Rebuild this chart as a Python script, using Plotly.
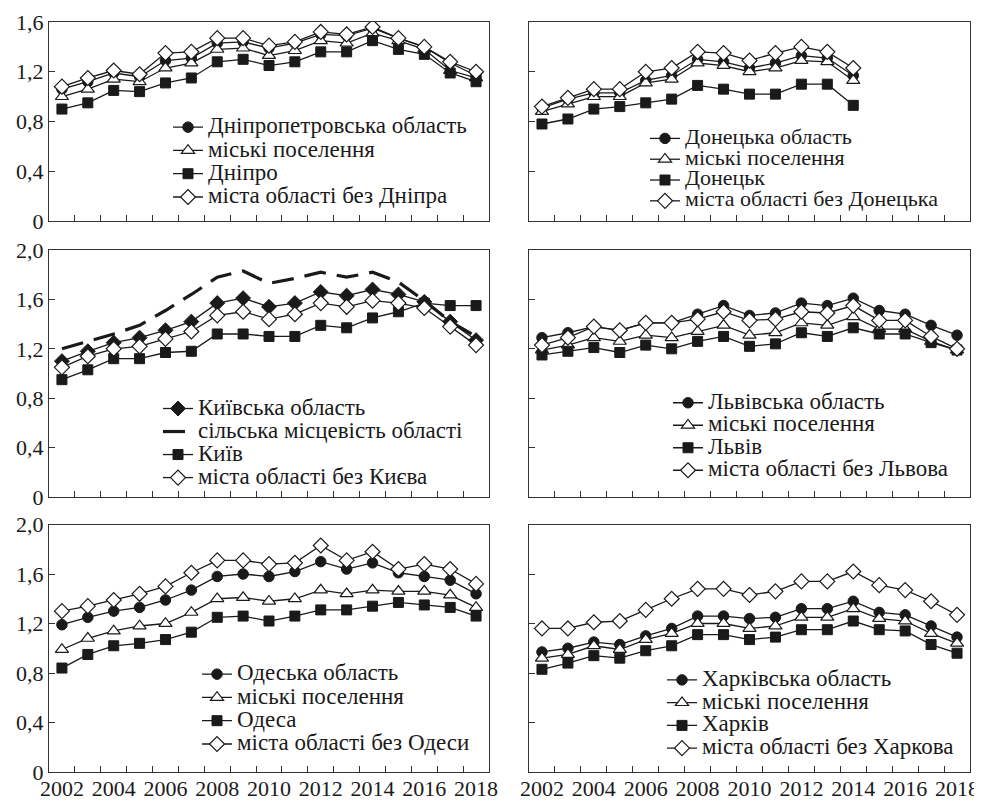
import plotly.graph_objects as go

years = list(range(2002, 2019))
years_don = list(range(2002, 2015))

# Dnipropetrovsk
dnipro_oblast = [1.06, 1.12, 1.19, 1.16, 1.29, 1.31, 1.43, 1.44, 1.39, 1.43, 1.50, 1.49, 1.55, 1.47, 1.40, 1.27, 1.17]
dnipro_urban = [1.00, 1.06, 1.14, 1.12, 1.23, 1.27, 1.38, 1.39, 1.33, 1.37, 1.45, 1.43, 1.51, 1.45, 1.38, 1.21, 1.15]
dnipro_city = [0.90, 0.95, 1.05, 1.04, 1.11, 1.15, 1.28, 1.30, 1.25, 1.28, 1.36, 1.36, 1.45, 1.38, 1.34, 1.19, 1.12]
dnipro_towns = [1.08, 1.15, 1.21, 1.18, 1.35, 1.36, 1.47, 1.47, 1.41, 1.44, 1.52, 1.50, 1.56, 1.47, 1.40, 1.28, 1.20]

# Donetsk (2002-2014)
don_oblast = [0.91, 0.98, 1.03, 1.03, 1.13, 1.17, 1.30, 1.28, 1.23, 1.27, 1.33, 1.31, 1.17]
don_urban = [0.88, 0.94, 1.00, 1.00, 1.11, 1.14, 1.27, 1.25, 1.20, 1.23, 1.29, 1.28, 1.13]
don_city = [0.78, 0.82, 0.90, 0.92, 0.95, 0.98, 1.09, 1.06, 1.02, 1.02, 1.10, 1.10, 0.93]
don_towns = [0.92, 0.99, 1.06, 1.06, 1.20, 1.23, 1.36, 1.35, 1.29, 1.35, 1.40, 1.36, 1.23]

# Kyiv
kyiv_oblast = [1.10, 1.18, 1.25, 1.29, 1.35, 1.42, 1.57, 1.61, 1.54, 1.57, 1.66, 1.63, 1.68, 1.64, 1.58, 1.42, 1.27]
kyiv_rural = [1.20, 1.26, 1.32, 1.39, 1.51, 1.64, 1.78, 1.83, 1.73, 1.77, 1.82, 1.78, 1.82, 1.74, 1.59, 1.42, 1.30]
kyiv_city = [0.95, 1.03, 1.12, 1.12, 1.17, 1.18, 1.32, 1.32, 1.30, 1.30, 1.39, 1.37, 1.45, 1.50, 1.57, 1.55, 1.55]
kyiv_towns = [1.05, 1.14, 1.20, 1.22, 1.28, 1.34, 1.47, 1.50, 1.44, 1.48, 1.57, 1.54, 1.59, 1.57, 1.53, 1.38, 1.23]

# Lviv
lviv_oblast = [1.29, 1.33, 1.38, 1.35, 1.41, 1.41, 1.48, 1.55, 1.47, 1.49, 1.57, 1.55, 1.61, 1.51, 1.48, 1.39, 1.31]
lviv_urban = [1.19, 1.23, 1.29, 1.26, 1.31, 1.29, 1.34, 1.39, 1.31, 1.33, 1.41, 1.39, 1.46, 1.36, 1.36, 1.26, 1.19]
lviv_city = [1.15, 1.18, 1.21, 1.17, 1.23, 1.20, 1.26, 1.30, 1.22, 1.24, 1.33, 1.30, 1.37, 1.32, 1.32, 1.25, 1.19]
lviv_towns = [1.23, 1.29, 1.38, 1.35, 1.41, 1.41, 1.44, 1.50, 1.43, 1.44, 1.50, 1.49, 1.55, 1.43, 1.43, 1.30, 1.20]

# Odesa
odesa_oblast = [1.19, 1.25, 1.30, 1.33, 1.39, 1.47, 1.58, 1.60, 1.58, 1.62, 1.70, 1.64, 1.69, 1.61, 1.58, 1.55, 1.44]
odesa_urban = [0.99, 1.08, 1.14, 1.18, 1.20, 1.29, 1.40, 1.41, 1.38, 1.40, 1.47, 1.44, 1.47, 1.46, 1.46, 1.43, 1.33]
odesa_city = [0.84, 0.95, 1.02, 1.04, 1.07, 1.13, 1.25, 1.26, 1.22, 1.26, 1.31, 1.31, 1.34, 1.37, 1.35, 1.33, 1.26]
odesa_towns = [1.30, 1.34, 1.39, 1.44, 1.50, 1.61, 1.71, 1.71, 1.68, 1.69, 1.83, 1.71, 1.78, 1.64, 1.68, 1.64, 1.52]

# Kharkiv
khar_oblast = [0.97, 1.00, 1.05, 1.03, 1.10, 1.16, 1.26, 1.26, 1.24, 1.25, 1.32, 1.32, 1.38, 1.29, 1.27, 1.18, 1.09]
khar_urban = [0.92, 0.95, 1.02, 0.99, 1.07, 1.12, 1.20, 1.20, 1.16, 1.18, 1.25, 1.25, 1.32, 1.24, 1.22, 1.12, 1.04]
khar_city = [0.83, 0.88, 0.94, 0.92, 0.98, 1.02, 1.11, 1.11, 1.07, 1.09, 1.15, 1.15, 1.22, 1.15, 1.14, 1.03, 0.96]
khar_towns = [1.16, 1.16, 1.21, 1.22, 1.31, 1.40, 1.48, 1.48, 1.43, 1.46, 1.54, 1.54, 1.62, 1.51, 1.47, 1.38, 1.27]

x_tickvals = [2002, 2004, 2006, 2008, 2010, 2012, 2014, 2016, 2018]
x_ticktext = [str(v) for v in x_tickvals]
x_boundaries = [y + 0.5 for y in range(2002, 2018)]
y_tickvals_top = [0, 0.4, 0.8, 1.2, 1.6]
y_ticktext_top = ["0", "0,4", "0,8", "1,2", "1,6"]
y_tickvals = [0, 0.4, 0.8, 1.2, 1.6, 2.0]
y_ticktext = ["0", "0,4", "0,8", "1,2", "1,6", "2,0"]

FONT = "Liberation Serif"
INK = "#1a1a1a"
AX = "#333333"
TICKSIZE = 22
LEGSIZE = 23

def lab(s, size=LEGSIZE):
    return '<span style="font-size:%spx">%s</span>' % (size, s)

STY = {
    "circle": dict(symbol="circle", size=10.5, color=INK, line=dict(color=INK, width=1)),
    "tri": dict(symbol="triangle-up", size=11.5, color="white", line=dict(color=INK, width=1.2)),
    "square": dict(symbol="square", size=10, color=INK, line=dict(color=INK, width=1)),
    "odiam": dict(symbol="diamond", size=11.5, color="white", line=dict(color=INK, width=1.2)),
    "fdiam": dict(symbol="diamond", size=11.5, color=INK, line=dict(color=INK, width=1)),
}

fig = go.Figure()

def add(i, xs, ys, name, sty, legend, size=LEGSIZE):
    sfx = "" if i == 1 else str(i)
    fig.add_trace(go.Scatter(
        x=xs, y=ys, name=lab(name, size), mode="lines+markers",
        line=dict(color=INK, width=1.3), marker=STY[sty],
        xaxis="x" + sfx, yaxis="y" + sfx, legend=legend))

add(1, years, dnipro_oblast, "Дніпропетровська область", "circle", "legend")
add(1, years, dnipro_urban, "міські поселення", "tri", "legend")
add(1, years, dnipro_city, "Дніпро", "square", "legend")
add(1, years, dnipro_towns, "міста області без Дніпра", "odiam", "legend")

add(2, years_don, don_oblast, "Донецька область", "circle", "legend2", 22)
add(2, years_don, don_urban, "міські поселення", "tri", "legend2", 22)
add(2, years_don, don_city, "Донецьк", "square", "legend2", 22)
add(2, years_don, don_towns, "міста області без Донецька", "odiam", "legend2", 22)

add(3, years, kyiv_oblast, "Київська область", "fdiam", "legend3")
fig.add_trace(go.Scatter(
    x=years, y=kyiv_rural, name=lab("сільська місцевість області"), mode="lines",
    line=dict(color=INK, width=3.2, dash="22px,11px"),
    xaxis="x3", yaxis="y3", legend="legend3"))
add(3, years, kyiv_city, "Київ", "square", "legend3")
add(3, years, kyiv_towns, "міста області без Києва", "odiam", "legend3")

add(4, years, lviv_oblast, "Львівська область", "circle", "legend4")
add(4, years, lviv_urban, "міські поселення", "tri", "legend4")
add(4, years, lviv_city, "Львів", "square", "legend4")
add(4, years, lviv_towns, "міста області без Львова", "odiam", "legend4")

add(5, years, odesa_oblast, "Одеська область", "circle", "legend5")
add(5, years, odesa_urban, "міські поселення", "tri", "legend5")
add(5, years, odesa_city, "Одеса", "square", "legend5")
add(5, years, odesa_towns, "міста області без Одеси", "odiam", "legend5")

add(6, years, khar_oblast, "Харківська область", "circle", "legend6")
add(6, years, khar_urban, "міські поселення", "tri", "legend6")
add(6, years, khar_city, "Харків", "square", "legend6")
add(6, years, khar_towns, "міста області без Харкова", "odiam", "legend6")

# the page body has an 8px margin: the figure is sized to end at the window edge
OFF = 8
W, H = 982 - OFF, 802 - OFF

def px(v):
    return (v - OFF) / W

def py(v):
    return 1 - (v - OFF) / H

xdom = {"L": [px(49), px(489)], "R": [px(529), px(970)]}
ydom = {1: [py(221), py(22)], 2: [py(497), py(250)], 3: [py(772), py(524.5)]}

layout = dict(
    width=W, height=H,
    margin=dict(l=0, r=0, t=0, b=0, pad=0, autoexpand=False),
    paper_bgcolor="white", plot_bgcolor="white",
    font=dict(family=FONT, size=TICKSIZE, color=INK),
    showlegend=True,
)

panels = [(1, "L", 1), (2, "R", 1), (3, "L", 2), (4, "R", 2), (5, "L", 3), (6, "R", 3)]
for i, side, row in panels:
    sfx = "" if i == 1 else str(i)
    top = row == 1
    layout["xaxis" + sfx] = dict(
        domain=xdom[side], anchor="y" + sfx, range=[2001.5, 2018.5],
        automargin=False,
        showgrid=False, zeroline=False, showline=True, mirror=True,
        linecolor=AX, linewidth=1.3,
        tickmode="array", tickvals=x_tickvals, ticktext=x_ticktext,
        ticks="", showticklabels=(row == 3), ticklabelstandoff=-4,
        tickfont=dict(family=FONT, size=TICKSIZE, color=INK),
        minor=dict(tickmode="array", tickvals=x_boundaries, ticks="inside",
                   ticklen=6, tickwidth=1.2, tickcolor=AX, showgrid=False),
    )
    layout["yaxis" + sfx] = dict(
        domain=ydom[row], anchor="x" + sfx,
        range=[0, 1.6] if top else [0, 2.0],
        automargin=False,
        showgrid=False, zeroline=False, showline=True, mirror=True,
        linecolor=AX, linewidth=1.3,
        tickmode="array",
        tickvals=y_tickvals_top if top else y_tickvals,
        ticktext=y_ticktext_top if top else y_ticktext,
        ticks="inside", ticklen=6, tickwidth=1.2, tickcolor=AX,
        showticklabels=(side == "L"),
        tickfont=dict(family=FONT, size=TICKSIZE, color=INK),
    )

# legend positions in window pixels: (left, top, legend font size that sets row spacing)
leg_specs = {
    "legend": (168, 110.5, 15.6),
    "legend2": (645, 123, 13.7),
    "legend3": (158, 392, 15.4),
    "legend4": (668, 386.5, 15.0),
    "legend5": (197, 657.5, 15.6),
    "legend6": (662, 663.5, 15.2),
}
for key, (lx, ly, fs) in leg_specs.items():
    layout[key] = dict(
        x=px(lx), y=py(ly), xanchor="left", yanchor="top",
        xref="paper", yref="paper",
        bgcolor="rgba(0,0,0,0)", borderwidth=0,
        font=dict(family=FONT, size=fs, color=INK),
        traceorder="normal", itemclick=False, itemdoubleclick=False,
    )

fig.update_layout(**layout)
fig.write_html("out.html")
